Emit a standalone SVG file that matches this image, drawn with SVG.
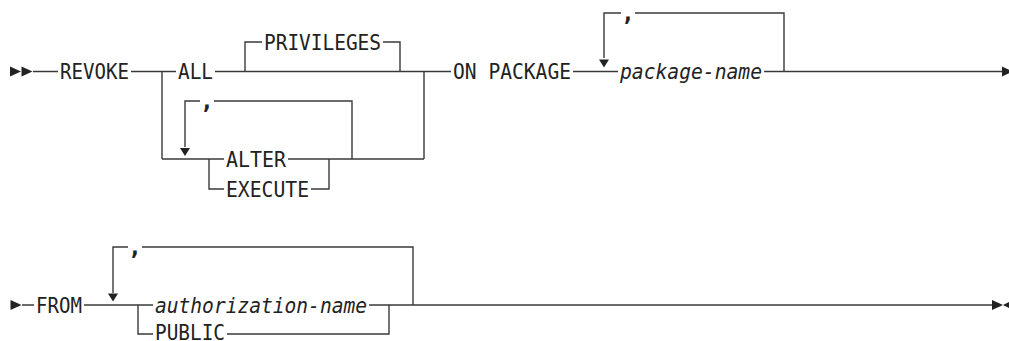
<svg xmlns="http://www.w3.org/2000/svg" xmlns:xlink="http://www.w3.org/1999/xlink" width="1009" height="341" viewBox="0 0 1009 341">
<style>
.t{font-family:"DejaVu Sans Mono","Liberation Mono",monospace;font-size:21px;fill:#222}
.i{font-style:italic}
.c{font-size:23px;font-weight:bold}
.l{fill:none;stroke:#3a3a3a;stroke-width:1.4}
.a{fill:#222}
</style>
<defs>
<path id="ar" d="M0,-5 L11,0 L0,5 Z"/>
<path id="al" d="M0,0 L10,-5 L10,5 Z"/>
<path id="ad" d="M-5,0 L5,0 L0,8 Z"/>
</defs>
<rect width="1009" height="341" fill="#fff"/>
<g id="connectors">
<!-- row 1 -->
<use xlink:href="#ar" class="a" x="10" y="71.5"/>
<use xlink:href="#ar" class="a" x="21.5" y="71.5"/>
<path class="l" d="M33,71.5H58 M131,71.5H176 M162,71.5V159 M215,71.5H451 M245,71.5V42H262 M383,42H400V71.5 M424,71.5V159 M573,71.5H618 M764,71.5H1003"/>
<use xlink:href="#ar" class="a" x="1002" y="71.5"/>
<path class="l" d="M604,58V13H621 M635,13H784V71.5"/>
<use xlink:href="#ad" class="a" x="604" y="59.5"/>
<!-- ALTER / EXECUTE -->
<path class="l" d="M162,159H224 M288,159H424 M209,159V189H224 M311,189H329V159 M185,147V101H200 M214,101H352V159"/>
<use xlink:href="#ad" class="a" x="185" y="148"/>
<!-- row 2 -->
<use xlink:href="#ar" class="a" x="10.5" y="305"/>
<path class="l" d="M22,305H34 M84,305H153 M138,305V334H153 M227,334H389V305 M369,305H992 M113,293V247H128 M142,247H413V305"/>
<use xlink:href="#ad" class="a" x="113" y="293.5"/>
<use xlink:href="#ar" class="a" x="992" y="305"/>
<use xlink:href="#al" class="a" x="1003" y="305"/>
</g>
<g id="n-revoke"><text class="t" x="60" y="79" textLength="69" lengthAdjust="spacingAndGlyphs">REVOKE</text></g>
<g id="n-all"><text class="t" x="178" y="79" textLength="35" lengthAdjust="spacingAndGlyphs">ALL</text></g>
<g id="n-privileges"><text class="t" x="264" y="49.5" textLength="117" lengthAdjust="spacingAndGlyphs">PRIVILEGES</text></g>
<g id="n-comma1"><text class="t c" x="200" y="109">,</text></g>
<g id="n-alter"><text class="t" x="226" y="166.5" textLength="60" lengthAdjust="spacingAndGlyphs">ALTER</text></g>
<g id="n-execute"><text class="t" x="226" y="196.5" textLength="83" lengthAdjust="spacingAndGlyphs">EXECUTE</text></g>
<g id="n-onpackage"><text class="t" x="453" y="79" textLength="118" lengthAdjust="spacingAndGlyphs">ON PACKAGE</text></g>
<g id="n-comma2"><text class="t c" x="621" y="21">,</text></g>
<g id="n-packagename"><text class="t i" x="620" y="79" textLength="142" lengthAdjust="spacingAndGlyphs">package-name</text></g>
<g id="n-from"><text class="t" x="36" y="312.5" textLength="46" lengthAdjust="spacingAndGlyphs">FROM</text></g>
<g id="n-comma3"><text class="t c" x="128" y="255">,</text></g>
<g id="n-authname"><text class="t i" x="155" y="312.5" textLength="212" lengthAdjust="spacingAndGlyphs">authorization-name</text></g>
<g id="n-public"><text class="t" x="155" y="340" textLength="70" lengthAdjust="spacingAndGlyphs">PUBLIC</text></g>
</svg>
